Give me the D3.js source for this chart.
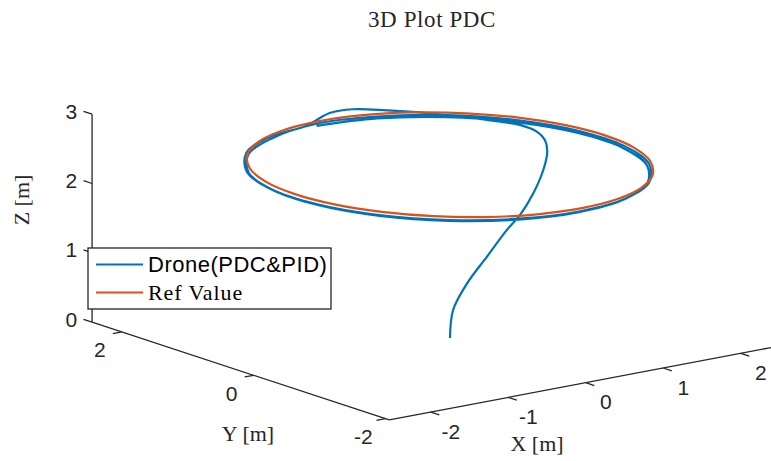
<!DOCTYPE html>
<html>
<head>
<meta charset="utf-8">
<script src="https://cdn.jsdelivr.net/npm/d3@7"></script>
<style>
  html, body { margin: 0; padding: 0; background: #fff; }
  svg { display: block; }
</style>
</head>
<body>
<svg id="chart" width="771" height="461"></svg>
<script>
// ---------------- DATA ----------------
const titleText = "3D Plot PDC";
const xLabel = "X [m]";
const yLabel = "Y [m]";
const zLabel = "Z [m]";
const seriesNames = ["Drone(PDC&PID)", "Ref Value"];

const xTicks = [-2, -1, 0, 1, 2];
const yTicks = [-2, 0, 2];
const zTicks = [0, 1, 2, 3];

// reference circle
const refX = [2.000, 1.932, 1.732, 1.414, 1.000, 0.518, 0.000, -0.518, -1.000, -1.414, -1.732, -1.932,
              -2.000, -1.932, -1.732, -1.414, -1.000, -0.518, 0.000, 0.518, 1.000, 1.414, 1.732, 1.932];
const refY = [0.000, 0.518, 1.000, 1.414, 1.732, 1.932, 2.000, 1.932, 1.732, 1.414, 1.000, 0.518,
              0.000, -0.518, -1.000, -1.414, -1.732, -1.932, -2.000, -1.932, -1.732, -1.414, -1.000, -0.518];
const refZ = [2.5, 2.5, 2.5, 2.5, 2.5, 2.5, 2.5, 2.5, 2.5, 2.5, 2.5, 2.5,
              2.5, 2.5, 2.5, 2.5, 2.5, 2.5, 2.5, 2.5, 2.5, 2.5, 2.5, 2.5];

// drone trajectory
const droneX = [0.00, 0.04, 0.18, 0.39, 0.63, 0.80, 0.99, 1.16, 1.34, 1.48, 1.55, 1.58, 1.58, 1.49, 1.36, 1.14, 0.89, 0.55, 0.25, -0.02, -0.21,
  -0.707, -1.312, -1.761, -2.000, -2.000, -1.761, -1.312, -0.707, -0.020, 0.667, 1.272, 1.721, 1.959, 1.959, 1.721, 1.272, 0.667, -0.020,
  -0.701, -1.299, -1.743, -1.980, -1.980, -1.743, -1.299, -0.701, -0.020, 0.661, 1.259, 1.703, 1.940, 1.940, 1.703, 1.259, 0.661, -0.020];
const droneY = [0.00, 0.00, -0.05, -0.10, -0.12, -0.12, -0.10, -0.05, 0.10, 0.30, 0.50, 0.80, 1.05, 1.30, 1.55, 1.80, 2.00, 2.12, 2.12, 2.05, 1.98,
  1.899, 1.550, 1.015, 0.359, -0.339, -0.995, -1.530, -1.879, -2.000, -1.879, -1.530, -0.995, -0.339, 0.359, 1.015, 1.550, 1.899, 2.020,
  1.880, 1.534, 1.005, 0.355, -0.335, -0.985, -1.514, -1.860, -1.980, -1.860, -1.514, -0.985, -0.335, 0.355, 1.005, 1.534, 1.880, 2.000];
const droneZ = [0.00, 0.395, 0.77, 1.12, 1.46, 1.64, 1.91, 2.19, 2.37, 2.45, 2.49, 2.49, 2.45, 2.44, 2.43, 2.45, 2.47, 2.52, 2.53, 2.48, 2.47,
  2.46, 2.46, 2.46, 2.46, 2.46, 2.46, 2.46, 2.46, 2.46, 2.46, 2.46, 2.46, 2.46, 2.46, 2.46, 2.46, 2.46, 2.46,
  2.44, 2.44, 2.44, 2.44, 2.44, 2.44, 2.44, 2.44, 2.44, 2.44, 2.44, 2.44, 2.44, 2.44, 2.44, 2.44, 2.44, 2.44];

// ---------------- LAYOUT ----------------
const xLim = [-2.535, 2.7], yLim = [-2.06, 2.45], zLim = [0, 3];
const origin = [450, 338];            // screen position of (0,0,0)
const ex = [77.5, -14.7], ey = [-65.9, -21.7], ez = [0, -69.3]; // px per unit
const colors = ["#0072BD", "#D95319"];
const axisColor = "#262626";
const sans = "'Liberation Sans', Arial, Helvetica, sans-serif";
const serif = "'Liberation Serif', 'Times New Roman', serif";

const xN = d3.scaleLinear().domain(xLim).range([0, 1]);
const yN = d3.scaleLinear().domain(yLim).range([0, 1]);
const zN = d3.scaleLinear().domain(zLim).range([0, 1]);
const span = l => l[1] - l[0];
const VX = [span(xLim) * ex[0], span(xLim) * ex[1]];
const VY = [span(yLim) * ey[0], span(yLim) * ey[1]];
const VZ = [span(zLim) * ez[0], span(zLim) * ez[1]];
const P0 = [origin[0] + xLim[0] * ex[0] + yLim[0] * ey[0] + zLim[0] * ez[0],
            origin[1] + xLim[0] * ex[1] + yLim[0] * ey[1] + zLim[0] * ez[1]];
function proj(x, y, z) {
  const a = xN(x), b = yN(y), c = zN(z);
  return [P0[0] + a * VX[0] + b * VY[0] + c * VZ[0],
          P0[1] + a * VX[1] + b * VY[1] + c * VZ[1]];
}
const unit = v => { const l = Math.hypot(v[0], v[1]); return [v[0] / l, v[1] / l]; };

const svg = d3.select("#chart");
const g = svg.append("g");

// ---------------- AXES ----------------
const axisG = g.append("g").attr("stroke", axisColor).attr("stroke-width", 1.3).attr("fill", "none");
const seg = (a, b) => axisG.append("line").attr("x1", a[0]).attr("y1", a[1]).attr("x2", b[0]).attr("y2", b[1]);
seg(proj(xLim[0], yLim[0], 0), proj(xLim[1], yLim[0], 0));
seg(proj(xLim[0], yLim[0], 0), proj(xLim[0], yLim[1], 0));
seg(proj(xLim[0], yLim[1], zLim[0]), proj(xLim[0], yLim[1], zLim[1]));

const tickLen = 9;
const dX = unit([-ey[0], -ey[1]]);   // x ticks point to -Y
const dY = unit([-ex[0], -ex[1]]);   // y ticks point to -X
const dZ = unit([ey[0], ey[1]]);     // z ticks point to +Y

const labels = g.append("g").attr("font-family", sans).attr("font-size", 21).attr("fill", axisColor);

xTicks.forEach(t => {
  const p = proj(t, yLim[0], 0);
  seg(p, [p[0] + dX[0] * tickLen, p[1] + dX[1] * tickLen]);
  labels.append("text").attr("x", p[0] + 20).attr("y", p[1] + 19)
    .attr("text-anchor", "middle").attr("dominant-baseline", "central").text(t);
});
yTicks.forEach(t => {
  const p = proj(xLim[0], t, 0);
  seg(p, [p[0] + dY[0] * tickLen, p[1] + dY[1] * tickLen]);
  labels.append("text").attr("x", p[0] - 22).attr("y", p[1] + 18)
    .attr("text-anchor", "middle").attr("dominant-baseline", "central").text(t);
});
zTicks.forEach(t => {
  const p = proj(xLim[0], yLim[1], t);
  seg(p, [p[0] + dZ[0] * tickLen, p[1] + dZ[1] * tickLen]);
  labels.append("text").attr("x", p[0] - 15).attr("y", p[1] - 3)
    .attr("text-anchor", "end").attr("dominant-baseline", "central").text(t);
});

// axis labels
const serifG = g.append("g").attr("font-family", serif).attr("font-size", 22).attr("fill", axisColor);
serifG.append("text").attr("x", 537).attr("y", 443).attr("text-anchor", "middle")
  .attr("dominant-baseline", "central").text(xLabel);
serifG.append("text").attr("x", 248).attr("y", 433).attr("text-anchor", "middle")
  .attr("dominant-baseline", "central").text(yLabel);
serifG.append("text").attr("transform", "translate(21,200) rotate(-90)").attr("text-anchor", "middle")
  .attr("dominant-baseline", "central").text(zLabel);
serifG.append("text").attr("x", 432).attr("y", 19).attr("text-anchor", "middle")
  .attr("font-size", 23).attr("letter-spacing", 0.6)
  .attr("dominant-baseline", "central").text(titleText);

// ---------------- SERIES ----------------
const drone = droneX.map((x, i) => proj(x, droneY[i], droneZ[i]));
const ref = refX.map((x, i) => proj(x, refY[i], refZ[i]));

g.append("path").attr("d", d3.line().curve(d3.curveCatmullRom)(drone))
  .attr("fill", "none").attr("stroke", colors[0]).attr("stroke-width", 2.2);
g.append("path").attr("d", d3.line().curve(d3.curveCatmullRomClosed)(ref))
  .attr("fill", "none").attr("stroke", colors[1]).attr("stroke-width", 2.2);

// ---------------- LEGEND ----------------
const lg = g.append("g");
lg.append("rect").attr("x", 88).attr("y", 248).attr("width", 243).attr("height", 61)
  .attr("fill", "#fff").attr("stroke", axisColor).attr("stroke-width", 1.3);
[264.5, 292.5].forEach((yy, i) => {
  lg.append("line").attr("x1", 96).attr("x2", 143).attr("y1", yy).attr("y2", yy)
    .attr("stroke", colors[i]).attr("stroke-width", 2.2);
  lg.append("text").attr("x", 148).attr("y", yy)
    .attr("font-family", i === 0 ? sans : serif).attr("font-size", 22)
    .attr("letter-spacing", i === 0 ? 0.5 : 0.9)
    .attr("dominant-baseline", "central").attr("fill", "#000").text(seriesNames[i]);
});
</script>
</body>
</html>
